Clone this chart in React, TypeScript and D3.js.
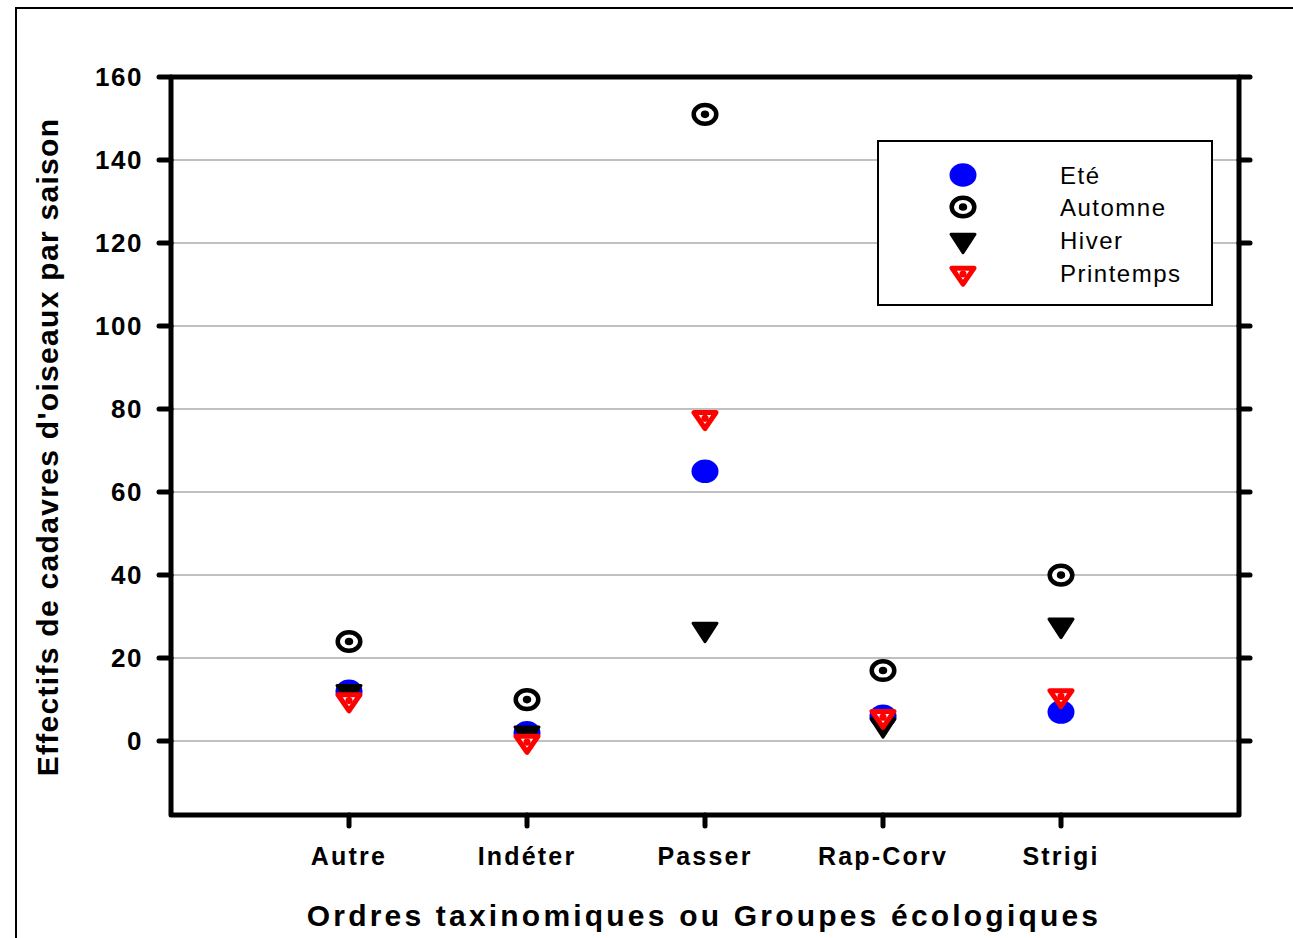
import React from "react";
import * as d3 from "d3";

const categories = ["Autre", "Indéter", "Passer", "Rap-Corv", "Strigi"];
const ete = [12, 2, 65, 6, 7];
const automne = [24, 10, 151, 17, 40];
const hiver = [12, 2, 27, 4, 28];
const printemps = [10, 0, 78, 6, 11];
const yTickValues = [0, 20, 40, 60, 80, 100, 120, 140, 160];
const seriesNames = ["Eté", "Automne", "Hiver", "Printemps"];

const W = 1293;
const H = 938;
const L = 171, R = 1239, T = 77, B = 815;

const x = d3.scaleLinear().domain([0, 6]).range([L, R]);
const y = d3.scaleLinear().domain([-17.8, 160]).range([B, T]);

const FONT = "'Liberation Sans', Arial, Helvetica, sans-serif";

function Marker({ kind, cx, cy }: { kind: number; cx: number; cy: number }) {
  if (kind === 0) {
    return <ellipse cx={cx} cy={cy} rx={13.5} ry={11.8} fill="#0000ff" />;
  }
  if (kind === 1) {
    return (
      <g>
        <ellipse cx={cx} cy={cy} rx={11.3} ry={9.3} fill="#fff" stroke="#000" strokeWidth={4.5} />
        <ellipse cx={cx} cy={cy} rx={4.2} ry={3.8} fill="#000" />
      </g>
    );
  }
  // triangle pointing down, centred on centroid
  const w = 27, h = 22;
  const top = cy - h / 3;
  const bot = cy + (2 * h) / 3;
  if (kind === 2) {
    const tri = d3.line()([[cx - w / 2 + 1.5, top + 1.5], [cx + w / 2 - 1.5, top + 1.5], [cx, bot - 2]]) + "Z";
    return <path d={tri} fill="#000" stroke="#000" strokeWidth={3} strokeLinejoin="round" />;
  }
  const tri = d3.line()([[cx - w / 2 + 2.5, top + 2.5], [cx + w / 2 - 2.5, top + 2.5], [cx, bot - 3.5]]) + "Z";
  return (
    <g>
      <path d={tri} fill="#fff" stroke="#ff0000" strokeWidth={5} strokeLinejoin="round" />
      <circle cx={cx} cy={cy + 1} r={3.6} fill="#ff0000" />
    </g>
  );
}

export default function App() {
  const allSeries = [ete, automne, hiver, printemps];
  const legendRows = [175, 207, 240, 273];
  return (
    <svg
      width={W}
      height={H}
      style={{ position: "absolute", left: 0, top: 0, background: "#fff" }}
      fontFamily={FONT}
    >
      <rect x={0} y={0} width={W} height={H} fill="#fff" />
      <rect x={16} y={8} width={1300} height={960} fill="none" stroke="#000" strokeWidth={2} />

      {/* gridlines */}
      {yTickValues.map((v) => (
        <line key={"g" + v} x1={L} x2={R} y1={y(v)} y2={y(v)} stroke="#c0c0c0" strokeWidth={2} />
      ))}

      {/* frame */}
      <g stroke="#000" strokeWidth={5} strokeLinecap="round" fill="none">
        <path d={`M${L},${T}L${R},${T}L${R},${B}L${L},${B}Z`} strokeLinejoin="round" />
        {yTickValues.map((v) => (
          <g key={"t" + v}>
            <line x1={L - 12} x2={L} y1={y(v)} y2={y(v)} />
            <line x1={R} x2={R + 11} y1={y(v)} y2={y(v)} />
          </g>
        ))}
        {categories.map((c, i) => (
          <line key={"bt" + c} x1={x(i + 1)} x2={x(i + 1)} y1={B} y2={B + 11} />
        ))}
      </g>

      {/* y tick labels */}
      {yTickValues.map((v) => (
        <text
          key={"l" + v}
          x={143}
          y={y(v)}
          dy="0.36em"
          textAnchor="end"
          fontSize={26}
          fontWeight="bold"
          letterSpacing={1.5}
        >
          {v}
        </text>
      ))}

      {/* category labels */}
      {categories.map((c, i) => (
        <text
          key={"c" + c}
          x={x(i + 1)}
          y={865}
          textAnchor="middle"
          fontSize={25}
          fontWeight="bold"
          letterSpacing={2.2}
        >
          {c}
        </text>
      ))}

      {/* axis titles */}
      <text x={704} y={926} textAnchor="middle" fontSize={30} fontWeight="bold" letterSpacing={3.2}>
        Ordres taxinomiques ou Groupes écologiques
      </text>
      <text
        transform="translate(58,447) rotate(-90)"
        textAnchor="middle"
        fontSize={30}
        fontWeight="bold"
        letterSpacing={1.3}
      >
        Effectifs de cadavres d'oiseaux par saison
      </text>

      {/* markers */}
      {allSeries.map((s, k) => (
        <g key={"s" + k}>
          {s.map((v, i) => (
            <Marker key={i} kind={k} cx={x(i + 1)} cy={y(v)} />
          ))}
        </g>
      ))}

      {/* legend */}
      <rect x={878} y={141} width={334} height={164} fill="#fff" stroke="#000" strokeWidth={2} />
      {seriesNames.map((n, k) => (
        <g key={"lg" + n}>
          <Marker kind={k} cx={963} cy={legendRows[k]} />
          <text x={1060} y={legendRows[k]} dy="0.36em" fontSize={24} letterSpacing={1.5}>
            {n}
          </text>
        </g>
      ))}
    </svg>
  );
}
